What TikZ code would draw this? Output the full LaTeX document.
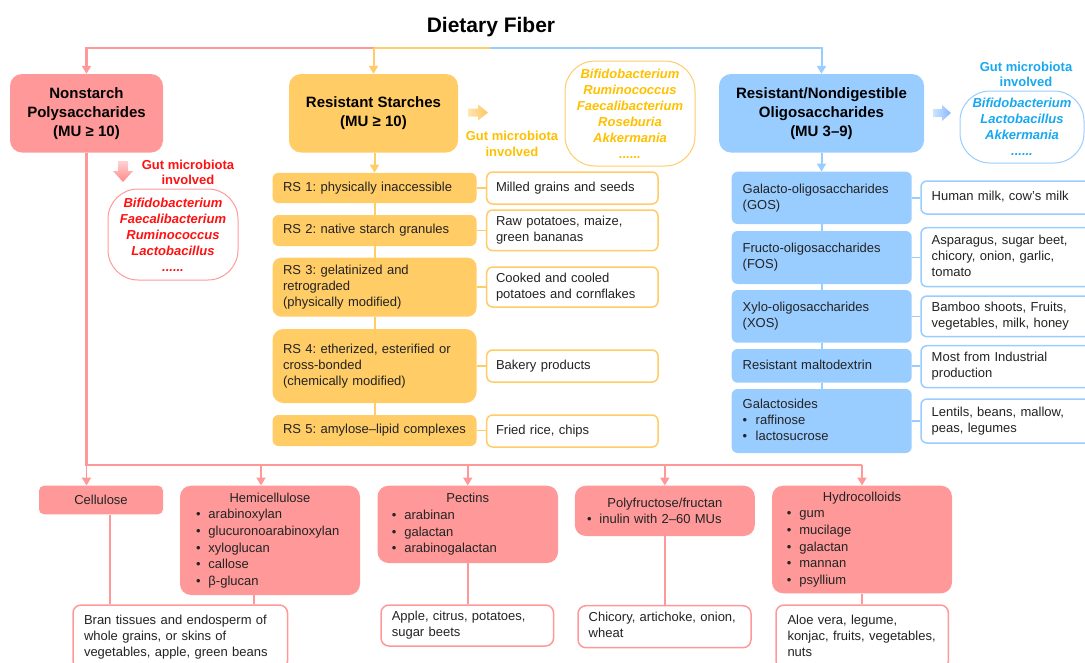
\documentclass[tikz,border=0pt]{standalone}
\usepackage{fontspec}
\setmainfont{Liberation Sans}
\usetikzlibrary{arrows.meta}
\frenchspacing

\definecolor{pinkc}{RGB}{255,153,153}
\definecolor{yelc}{RGB}{255,204,102}
\definecolor{bluc}{RGB}{153,204,255}
\definecolor{redt}{RGB}{255,17,17}
\definecolor{oranget}{RGB}{255,192,0}
\definecolor{bluet}{RGB}{24,168,240}
\definecolor{txt}{RGB}{35,35,35}

\newcommand\bodyf{\fontsize{13}{16}\selectfont}
\newcommand\listf{\fontsize{13}{16.6}\selectfont}
\newcommand\headf{\fontsize{15}{19}\selectfont\bfseries}
\newcommand\bubf{\fontsize{13}{16}\selectfont\bfseries\itshape}
\newcommand\labf{\fontsize{13}{15.5}\selectfont\bfseries}
\newcommand\bl{\makebox[12.5pt][l]{•}}
\newcommand\lines[1]{\begin{tabular}{@{}l@{}}#1\end{tabular}}

\begin{document}
\begin{tikzpicture}[x=1pt,y=-1pt,
  every node/.style={text=txt, inner ysep=0pt},
  base/.style={rounded corners=6pt, align=left, font=\bodyf},
  rsbox/.style={base, fill=yelc, inner xsep=10.5pt, text width=183pt},
  rswht/.style={base, draw=yelc, line width=1.5pt, fill=white, inner xsep=9.3pt, text width=152.7pt},
  olbox/.style={base, fill=bluc, inner xsep=11pt, text width=158pt},
  olwht/.style={base, draw=bluc, line width=1.5pt, fill=white, inner xsep=10.7pt, text width=157.6pt},
  pbox/.style={base, fill=pinkc, rounded corners=11pt, font=\listf},
  pwht/.style={base, draw=pinkc, line width=1.5pt, fill=white, rounded corners=8pt},
  head/.style={rounded corners=12pt, align=center, font=\headf, text=black, minimum height=78.5pt},
  bub/.style={rounded corners=30pt, line width=1pt, align=center, font=\bubf, inner sep=0pt},
  lab/.style={align=center, font=\labf},
  pl/.style={draw=pinkc, line width=2.2pt},
  yl/.style={draw=yelc, line width=2pt},
  bll/.style={draw=bluc, line width=2pt},
  arr/.style={-{Triangle[length=8pt,width=9pt]}},
]
\useasboundingbox (0,0) rectangle (1085,662);
\clip (0,0) rectangle (1085,662);

% title
\node[font=\fontsize{21}{25}\selectfont\bfseries, text=black] (title) at (491,27) {Dietary Fiber};

% headers
\node[head, fill=pinkc, minimum width=153pt] (nsp) at (86.5,113.25) {Nonstarch\\Polysaccharides\\(MU ≥ 10)};
\node[head, fill=yelc, minimum width=169pt] (rs) at (373.5,113.25) {Resistant Starches\\(MU ≥ 10)};
\node[head, fill=bluc, minimum width=205pt] (ol) at (821.5,113.25) {Resistant/Nondigestible\\Oligosaccharides\\(MU 3–9)};

% top connectors
\coordinate (ty) at (373.5,48);
\coordinate (tb) at (490,48);
\draw[pl, arr] (ty) -- (nsp.north |- ty) -- (nsp.north);
\draw[bll, arr] (tb) -- (ol.north |- tb) -- (ol.north);
\draw[yl] (ty) -- (tb);
\draw[yl, arr] (ty) -- (rs.north);

% resistant starch column
\node[rsbox, minimum height=30.3pt] (rs1) at (374.5,187.9) {\lines{RS 1: physically inaccessible}};
\node[rsbox, minimum height=31pt] (rs2) at (374.5,230.5) {\lines{RS 2: native starch granules}};
\node[rsbox, minimum height=59pt, rounded corners=9pt] (rs3) at (374.5,287.2) {\lines{RS 3: gelatinized and\\retrograded\\(physically modified)}};
\node[rsbox, minimum height=74pt, rounded corners=11pt] (rs4) at (374.5,366) {\lines{RS 4: etherized, esterified or\\cross-bonded\\(chemically modified)}};
\node[rsbox, minimum height=31pt] (rs5) at (374.5,430.5) {\lines{RS 5: amylose–lipid complexes}};

\node[rswht, minimum height=32pt] (w1) at (572.35,188) {\lines{Milled grains and seeds}};
\node[rswht, minimum height=40.7pt] (w2) at (572.35,230.35) {\lines{Raw potatoes, maize,\\green bananas}};
\node[rswht, minimum height=40pt] (w3) at (572.35,287) {\lines{Cooked and cooled\\potatoes and cornflakes}};
\node[rswht, minimum height=32pt] (w4) at (572.35,366) {\lines{Bakery products}};
\node[rswht, minimum height=32pt] (w5) at (572.35,431) {\lines{Fried rice, chips}};

\draw[yl, arr] (rs1.north |- rs.south) -- (rs1.north);
\draw[yl] (rs1) -- (rs2);
\draw[yl] (rs2) -- (rs3);
\draw[yl] (rs3) -- (rs4);
\draw[yl] (rs4) -- (rs5);
\foreach \i in {1,...,5}{\draw[yl, line width=1.5pt] (rs\i.east) -- (rs\i.east -| w\i.west);}

% oligosaccharide column
\node[olbox, minimum height=52.3pt] (b1) at (821.7,197.85) {\lines{Galacto-oligosaccharides\\(GOS)}};
\node[olbox, minimum height=53pt] (b2) at (821.7,257.5) {\lines{Fructo-oligosaccharides\\(FOS)}};
\node[olbox, minimum height=52.7pt] (b3) at (821.7,316.35) {\lines{Xylo-oligosaccharides\\(XOS)}};
\node[olbox, minimum height=33.7pt] (b4) at (821.7,365.85) {\lines{Resistant maltodextrin}};
\node[olbox, minimum height=64pt] (b5) at (821.7,421) {\lines{Galactosides\\\makebox[13pt][l]{•}raffinose\\\makebox[13pt][l]{•}lactosucrose}};

\node[olwht, minimum height=33pt] (bw1) at (1010.5,197.5) {\lines{Human milk, cow's milk}};
\node[olwht, minimum height=59pt] (bw2) at (1010.5,257.2) {\lines{Asparagus, sugar beet,\\chicory, onion, garlic,\\tomato}};
\node[olwht, minimum height=40.7pt] (bw3) at (1010.5,316.35) {\lines{Bamboo shoots, Fruits,\\vegetables, milk, honey}};
\node[olwht, minimum height=42pt] (bw4) at (1010.5,366.7) {\lines{Most from Industrial\\production}};
\node[olwht, minimum height=44pt] (bw5) at (1010.5,421) {\lines{Lentils, beans, mallow,\\peas, legumes}};

\draw[bll, arr] (ol.south) -- (ol.south |- b1.north);
\draw[bll] (b1) -- (b2);
\draw[bll] (b2) -- (b3);
\draw[bll] (b3) -- (b4);
\draw[bll] (b4) -- (b5);
\foreach \i in {1,...,5}{\draw[bll, line width=1.5pt] (b\i.east) -- (b\i.east -| bw\i.west);}

% gut microbiota labels, arrows and bubbles
\shade[top color=pinkc!45, bottom color=pinkc!90!red] (118,161) -- (128,161) -- (128,171) -- (133,171) -- (123,182) -- (113,171) -- (118,171) -- cycle;
\node[lab, text=redt] (rlab) at (188,172.5) {Gut microbiota\\involved};
\node[bub, draw=pinkc, text=redt, minimum width=130pt, minimum height=91pt] (rbub) at (173,234.5) {Bifidobacterium\\Faecalibacterium\\Ruminococcus\\Lactobacillus\\......};

\shade[left color=yelc!50, right color=yelc!90!orange] (468,108.5) -- (478,108.5) -- (478,104.5) -- (488,112.5) -- (478,120.5) -- (478,116.5) -- (468,116.5) -- cycle;
\node[lab, text=oranget] (ylab) at (512,144) {Gut microbiota\\involved};
\node[bub, draw=yelc, text=oranget, minimum width=130pt, minimum height=105pt] (ybub) at (630,113.5) {Bifidobacterium\\Ruminococcus\\Faecalibacterium\\Roseburia\\Akkermania\\......};

\shade[left color=bluc!50, right color=bluc!90!blue] (933,109) -- (942,109) -- (942,105) -- (951,113) -- (942,121) -- (942,117) -- (933,117) -- cycle;
\node[lab, text=bluet] (blab) at (1026,74.5) {Gut microbiota\\involved};
\node[bub, draw=bluc, text=bluet, minimum width=124pt, minimum height=72pt] (bbub) at (1022,127) {Bifidobacterium\\Lactobacillus\\Akkermania\\......};

% nonstarch polysaccharide subclasses
\node[pbox, align=center, text width=124pt, inner xsep=0pt, minimum height=28.6pt, rounded corners=5pt] (cel) at (101,500) {Cellulose};
\node[pbox, inner xsep=16pt, text width=148pt, minimum height=109.3pt] (hemi) at (270,540.35) {\makebox[\linewidth]{Hemicellulose}\\\bl arabinoxylan\\\bl glucuronoarabinoxylan\\\bl xyloglucan\\\bl callose\\\bl β-glucan};
\node[pbox, inner xsep=14.3pt, text width=151.9pt, minimum height=77.3pt] (pec) at (467.75,524.35) {\makebox[\linewidth]{Pectins}\\\bl arabinan\\\bl galactan\\\bl arabinogalactan};
\node[pbox, inner xsep=12.2pt, text width=155.6pt, minimum height=50.3pt] (poly) at (664.8,510.85) {\makebox[\linewidth]{Polyfructose/fructan}\\\bl inulin with 2–60 MUs};
\node[pbox, inner xsep=14.8pt, text width=150.4pt, minimum height=107.6pt] (hyd) at (862,539.5) {\makebox[\linewidth]{Hydrocolloids}\\\bl gum\\\bl mucilage\\\bl galactan\\\bl mannan\\\bl psyllium};

\node[pwht, inner xsep=11pt, text width=192.5pt, minimum height=64pt] (bran) at (180.25,637) {\lines{Bran tissues and endosperm of\\whole grains, or skins of\\vegetables, apple, green beans}};
\node[pwht, inner xsep=10.8pt, text width=151pt, minimum height=41pt] (apple) at (467.3,625.5) {\lines{Apple, citrus, potatoes,\\sugar beets}};
\node[pwht, inner xsep=10.7pt, text width=151.6pt, minimum height=42pt] (chic) at (664.5,626.7) {\lines{Chicory, artichoke, onion,\\wheat}};
\node[pwht, inner xsep=11.5pt, text width=149.4pt, minimum height=64pt] (aloe) at (862.2,637) {\lines{Aloe vera, legume,\\konjac, fruits, vegetables,\\nuts}};

% pink connectors
\coordinate (pj) at (86.5,465);
\coordinate (ph) at (261,465);
\coordinate (pp) at (467.75,465);
\coordinate (pf) at (664.8,465);
\coordinate (pe) at (862,465);
\draw[pl] (nsp.south) -- (pj) -- (pe);
\draw[pl, line width=1.8pt, arr] (pj) -- (pj |- cel.north);
\draw[pl, line width=1.8pt, arr] (ph) -- (ph |- hemi.north);
\draw[pl, line width=1.8pt, arr] (pp) -- (pec.north);
\draw[pl, line width=1.8pt, arr] (pf) -- (poly.north);
\draw[pl, line width=1.8pt, arr] (pe) -- (hyd.north);

\draw[pl, line width=1.8pt] ([xshift=9pt]cel.south) -- ([xshift=9pt]cel.south |- bran.north);
\draw[pl, line width=1.8pt] ([xshift=-16.4pt]hemi.south) -- ([xshift=-16.4pt]hemi.south |- bran.north);
\draw[pl, line width=1.8pt] (pec.south) -- (pec.south |- apple.north);
\draw[pl, line width=1.8pt] (poly.south) -- (poly.south |- chic.north);
\draw[pl, line width=1.8pt] (hyd.south) -- (hyd.south |- aloe.north);
\end{tikzpicture}
\end{document}
